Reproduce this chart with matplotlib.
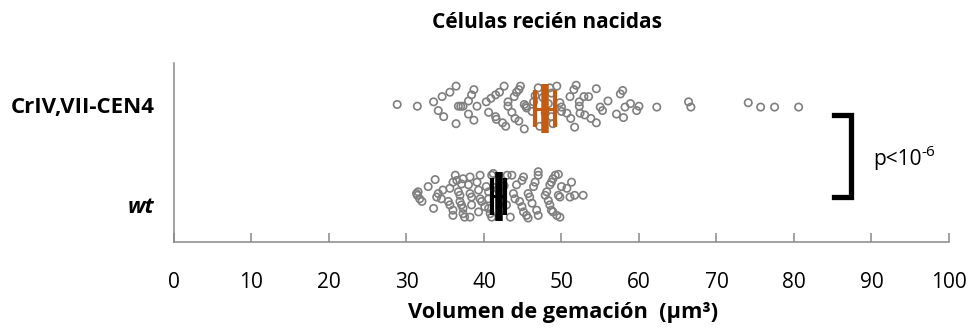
import numpy as np
import matplotlib
matplotlib.use("Agg")
import matplotlib.pyplot as plt
from matplotlib.transforms import ScaledTranslation

plt.rcParams["font.family"] = ["Open Sans", "DejaVu Sans"]

# ---------- Data ----------
categories = ["wt", "CrIV,VII-CEN4"]
row_pos = [1, 2]

# budding volume (um^3) per cell, with vertical spread inside each row
wt_vol = [31.3, 31.5, 31.4, 31.7, 32.0, 32.8, 33.7, 33.5, 34.1, 33.9,
          34.5, 34.7, 35.6, 35.4, 35.6, 36.0, 36.0, 36.3, 36.0, 36.5,
          36.7, 36.9, 36.9, 37.1, 37.3, 37.1, 37.3, 37.3, 37.5, 38.2,
          38.0, 38.2, 38.4, 38.4, 38.2, 39.3, 39.1, 39.5, 39.3, 39.5,
          39.7, 40.3, 40.6, 40.1, 40.6, 40.8, 41.0, 41.2, 41.0, 40.6,
          41.5, 41.8, 42.1, 42.3, 42.6, 42.9, 43.0,
          43.6, 43.8, 44.0, 43.4, 44.2, 44.9, 45.1, 44.6, 44.9, 45.1,
          45.5, 45.7, 45.7, 45.9, 46.2, 46.4, 46.6, 47.0, 47.0, 46.8,
          47.0, 47.9, 48.1, 48.3, 48.5, 48.7, 48.9, 49.2, 49.6, 48.5,
          48.7, 48.9, 49.4, 49.8, 49.6, 49.8, 50.0, 50.7, 51.3, 51.1,
          51.7, 52.8]
wt_spread = [0.03, 0.05, 0.01, -0.03, -0.06, 0.11, 0.19, -0.14, 0.03, -0.01,
             -0.03, 0.07, 0.09, -0.06, -0.10, -0.16, -0.22, 0.24, 0.16, 0.18,
             0.05, 0.01, -0.06, -0.10, 0.20, 0.14, -0.14, -0.20, -0.24, 0.22,
             0.13, 0.03, -0.01, -0.10, -0.24, -0.18, 0.16, 0.24, 0.07, -0.03,
             -0.06, 0.11, 0.05, -0.12, -0.14, -0.20, 0.24, 0.26, -0.24, -0.03,
             0.18, 0.08, -0.05, -0.16, 0.12, -0.10, 0.24,
             0.24, 0.03, -0.03, -0.24, 0.13, 0.18, 0.22, -0.06, -0.12, -0.18,
             -0.22, -0.25, 0.03, -0.01, -0.08, 0.11, 0.16, 0.24, 0.28, -0.16,
             -0.22, 0.01, 0.05, -0.05, 0.13, 0.16, 0.20, 0.24, 0.25, -0.10,
             -0.16, -0.18, -0.22, -0.24, 0.01, -0.01, 0.11, 0.09, 0.16, -0.01,
             0.01, 0.01]

cen4_vol = [28.8, 31.4, 33.5, 34.1, 34.8, 34.6, 35.6, 36.4, 36.7, 37.0,
            37.3, 36.4, 38.0, 38.4, 38.7, 38.0, 38.7, 39.1, 40.3, 40.9,
            41.5, 42.0, 42.6, 40.6, 41.5, 41.6, 42.4, 42.8, 43.1, 43.1,
            43.9, 44.2, 44.5, 44.7, 43.6, 44.0, 44.5, 45.2, 45.2, 45.4,
            45.5, 46.4, 46.6, 47.0, 46.2, 47.2, 47.6, 47.9, 48.3, 48.5,
            48.7, 48.7, 48.9, 49.4, 49.8, 50.0, 50.0, 50.7, 51.2, 51.7,
            51.1, 51.6, 51.9, 52.3, 52.3, 52.4, 52.9, 53.5, 53.0, 53.8,
            54.5, 54.5, 55.0, 55.3, 56.0, 57.1, 57.6, 57.9, 58.0, 58.2,
            58.9, 59.7, 60.0, 62.3, 66.4, 66.7, 74.1, 75.7, 77.5, 80.6]
cen4_spread = [0.05, 0.03, 0.08, -0.02, -0.09, 0.14, 0.19, 0.26, 0.03, 0.03,
               0.03, -0.17, 0.09, 0.16, 0.22, -0.06, -0.13, 0.03, 0.08, 0.12,
               0.16, 0.19, 0.26, -0.04, -0.09, -0.12, -0.16, -0.20, 0.08, 0.03,
               0.14, 0.19, 0.22, 0.26, -0.04, -0.11, -0.14, -0.23, 0.05, 0.03,
               0.01, 0.08, 0.15, 0.24, -0.03, -0.20, 0.13, -0.05, 0.06, 0.24,
               0.18, -0.09, -0.17, 0.26, 0.07, 0.02, -0.03, -0.05, -0.11, -0.21,
               0.14, 0.22, 0.27, 0.08, 0.03, -0.05, 0.14, 0.14, -0.07, -0.11,
               -0.16, 0.23, 0.02, -0.02, 0.09, -0.06, 0.17, 0.21, -0.10, 0.02,
               0.06, -0.02, 0.03, 0.02, 0.08, 0.02, 0.07, 0.02, 0.02, 0.02]

means = [41.9, 47.9]
errors = [0.8, 1.3]
mean_colors = ["black", "#C55A11"]

p_text = "p<10"
p_exp = "-6"

# ---------- Figure ----------
fig = plt.figure(figsize=(9.73, 3.33), dpi=100)
ax = fig.add_axes([0.1788, 0.2742, 0.7965, 0.5375])

point_style = dict(s=28, facecolors="none", edgecolors="#7f7f7f",
                   linewidths=1.2, zorder=2)
ax.scatter(wt_vol, np.add(row_pos[0], wt_spread), **point_style)
ax.scatter(cen4_vol, np.add(row_pos[1], cen4_spread), **point_style)

# mean bar with SEM whiskers
for y, m, e, c in zip(row_pos, means, errors, mean_colors):
    ax.hlines(y, m - e, m + e, color=c, lw=2.2, zorder=3)
    ax.vlines([m - e, m + e], y - 0.21, y + 0.21, color=c, lw=3.0, zorder=3)
    ax.vlines(m, y - 0.28, y + 0.28, color=c, lw=5.4, zorder=4)

# significance bracket
ax.plot([85.2, 87.3, 87.3, 85.2], [1.93, 1.93, 0.985, 0.985],
        color="black", lw=3.8, solid_joinstyle="miter", clip_on=False)
t = ax.text(90.2, 1.42, p_text, fontsize=15, va="center", ha="left")
ax.annotate(p_exp, xy=(1.0, 0.85), xycoords=t, fontsize=11,
            va="center", ha="left")

ax.set_xlim(0, 100)
ax.set_ylim(0.479, 2.528)
ax.set_xticks(np.arange(0, 101, 10))
ax.set_yticks(row_pos)
ax.set_yticklabels(categories)

for side in ["top", "right"]:
    ax.spines[side].set_visible(False)
for side in ["left", "bottom"]:
    ax.spines[side].set_color("#898989")
    ax.spines[side].set_linewidth(1.1)

ax.tick_params(axis="x", direction="in", length=6.5, width=1.1,
               color="#898989", labelsize=15, pad=22)
ax.tick_params(axis="y", length=0, labelsize=16, pad=14)

ylabels = ax.get_yticklabels()
ylabels[0].set_fontstyle("italic")
for lab, shift in zip(ylabels, [-9, 4]):
    lab.set_fontweight("bold")
    lab.set_transform(lab.get_transform()
                      + ScaledTranslation(0, shift / 100, fig.dpi_scale_trans))

ax.set_xlabel("Volumen de gemación  (µm³)", fontsize=15.7,
              fontweight="bold", va="center")
ax.xaxis.set_label_coords(0.502, -0.398)

ax.text(0.481, 1.227, "Células recién nacidas", transform=ax.transAxes,
        fontsize=15, fontweight="bold", ha="center", va="center")

fig.savefig("out.png", dpi=100)
